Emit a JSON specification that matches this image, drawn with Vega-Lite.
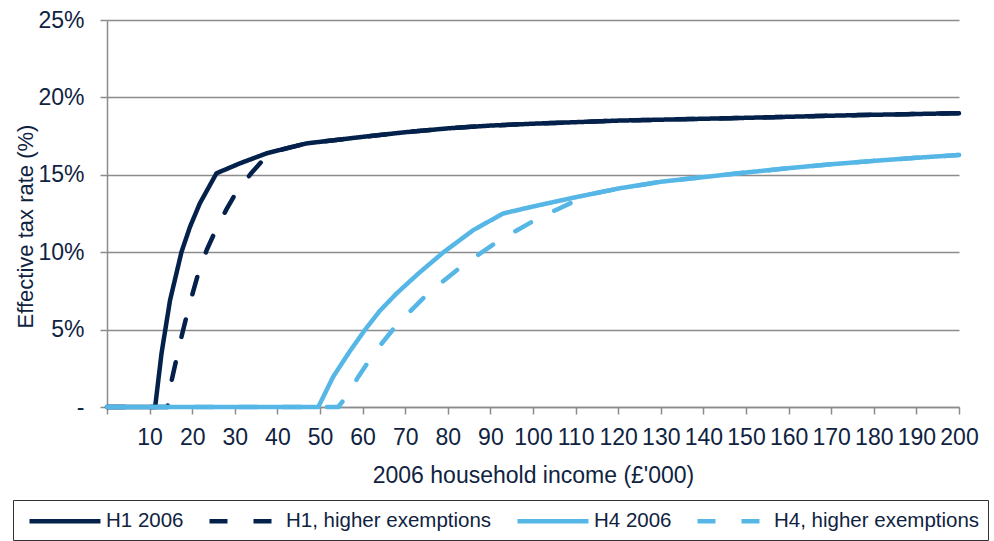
{
  "$schema": "https://vega.github.io/schema/vega-lite/v6.json",
  "autosize": {"type": "none"},
  "width": 852,
  "height": 387,
  "padding": {"left": 107, "top": 20, "right": 35, "bottom": 134},
  "background": "white",
  "config": {
    "font": "Liberation Sans",
    "view": {"stroke": null}
  },
  "data": {
    "values": [
      {"series": "H1 2006", "income": 0, "rate": 0},
      {"series": "H1 2006", "income": 11.3, "rate": 0},
      {"series": "H1 2006", "income": 12.8, "rate": 0.0347},
      {"series": "H1 2006", "income": 14.8, "rate": 0.069},
      {"series": "H1 2006", "income": 17.5, "rate": 0.1003},
      {"series": "H1 2006", "income": 19.5, "rate": 0.1165},
      {"series": "H1 2006", "income": 21.8, "rate": 0.1316},
      {"series": "H1 2006", "income": 25.7, "rate": 0.151},
      {"series": "H1 2006", "income": 31.2, "rate": 0.1574},
      {"series": "H1 2006", "income": 37.5, "rate": 0.1639},
      {"series": "H1 2006", "income": 46.9, "rate": 0.1703},
      {"series": "H1 2006", "income": 60, "rate": 0.1745},
      {"series": "H1 2006", "income": 70, "rate": 0.1775},
      {"series": "H1 2006", "income": 80, "rate": 0.18},
      {"series": "H1 2006", "income": 90, "rate": 0.1818},
      {"series": "H1 2006", "income": 100, "rate": 0.183},
      {"series": "H1 2006", "income": 120, "rate": 0.185},
      {"series": "H1 2006", "income": 150, "rate": 0.1868},
      {"series": "H1 2006", "income": 175, "rate": 0.1885},
      {"series": "H1 2006", "income": 200, "rate": 0.1898},

      {"series": "H1, higher exemptions", "income": 0, "rate": 0},
      {"series": "H1, higher exemptions", "income": 14.2, "rate": 0},
      {"series": "H1, higher exemptions", "income": 15.2, "rate": 0.0174},
      {"series": "H1, higher exemptions", "income": 16.3, "rate": 0.031},
      {"series": "H1, higher exemptions", "income": 17.5, "rate": 0.0455},
      {"series": "H1, higher exemptions", "income": 18.7, "rate": 0.059},
      {"series": "H1, higher exemptions", "income": 19.9, "rate": 0.0715},
      {"series": "H1, higher exemptions", "income": 21.4, "rate": 0.086},
      {"series": "H1, higher exemptions", "income": 23.4, "rate": 0.1014},
      {"series": "H1, higher exemptions", "income": 25.4, "rate": 0.1135},
      {"series": "H1, higher exemptions", "income": 28.1, "rate": 0.128},
      {"series": "H1, higher exemptions", "income": 30.4, "rate": 0.139},
      {"series": "H1, higher exemptions", "income": 34, "rate": 0.1515},
      {"series": "H1, higher exemptions", "income": 37.1, "rate": 0.161},
      {"series": "H1, higher exemptions", "income": 38.5, "rate": 0.1647},
      {"series": "H1, higher exemptions", "income": 46.9, "rate": 0.1703},
      {"series": "H1, higher exemptions", "income": 60, "rate": 0.1745},
      {"series": "H1, higher exemptions", "income": 70, "rate": 0.1775},
      {"series": "H1, higher exemptions", "income": 80, "rate": 0.18},
      {"series": "H1, higher exemptions", "income": 90, "rate": 0.1818},
      {"series": "H1, higher exemptions", "income": 100, "rate": 0.183},
      {"series": "H1, higher exemptions", "income": 120, "rate": 0.185},
      {"series": "H1, higher exemptions", "income": 150, "rate": 0.1868},
      {"series": "H1, higher exemptions", "income": 175, "rate": 0.1885},
      {"series": "H1, higher exemptions", "income": 200, "rate": 0.1898},

      {"series": "H4 2006", "income": 0, "rate": 0},
      {"series": "H4 2006", "income": 49.6, "rate": 0},
      {"series": "H4 2006", "income": 53.1, "rate": 0.0196},
      {"series": "H4 2006", "income": 57, "rate": 0.036},
      {"series": "H4 2006", "income": 60.6, "rate": 0.05},
      {"series": "H4 2006", "income": 64, "rate": 0.062},
      {"series": "H4 2006", "income": 68, "rate": 0.0734},
      {"series": "H4 2006", "income": 73, "rate": 0.086},
      {"series": "H4 2006", "income": 79, "rate": 0.1},
      {"series": "H4 2006", "income": 86, "rate": 0.1143},
      {"series": "H4 2006", "income": 93, "rate": 0.125},
      {"series": "H4 2006", "income": 100, "rate": 0.1295},
      {"series": "H4 2006", "income": 110, "rate": 0.1355},
      {"series": "H4 2006", "income": 120.4, "rate": 0.1413},
      {"series": "H4 2006", "income": 130, "rate": 0.1455},
      {"series": "H4 2006", "income": 140, "rate": 0.1485},
      {"series": "H4 2006", "income": 150, "rate": 0.1515},
      {"series": "H4 2006", "income": 160, "rate": 0.1543},
      {"series": "H4 2006", "income": 170, "rate": 0.1568},
      {"series": "H4 2006", "income": 180, "rate": 0.159},
      {"series": "H4 2006", "income": 190, "rate": 0.161},
      {"series": "H4 2006", "income": 200, "rate": 0.1628},

      {"series": "H4, higher exemptions", "income": 0, "rate": 0},
      {"series": "H4, higher exemptions", "income": 54.3, "rate": 0},
      {"series": "H4, higher exemptions", "income": 56, "rate": 0.006},
      {"series": "H4, higher exemptions", "income": 59, "rate": 0.0196},
      {"series": "H4, higher exemptions", "income": 63, "rate": 0.036},
      {"series": "H4, higher exemptions", "income": 68, "rate": 0.053},
      {"series": "H4, higher exemptions", "income": 75.4, "rate": 0.0735},
      {"series": "H4, higher exemptions", "income": 83.6, "rate": 0.0917},
      {"series": "H4, higher exemptions", "income": 92.3, "rate": 0.108},
      {"series": "H4, higher exemptions", "income": 101.6, "rate": 0.1225},
      {"series": "H4, higher exemptions", "income": 106.3, "rate": 0.1284},
      {"series": "H4, higher exemptions", "income": 113, "rate": 0.1372},
      {"series": "H4, higher exemptions", "income": 120.4, "rate": 0.1413},
      {"series": "H4, higher exemptions", "income": 130, "rate": 0.1455},
      {"series": "H4, higher exemptions", "income": 140, "rate": 0.1485},
      {"series": "H4, higher exemptions", "income": 150, "rate": 0.1515},
      {"series": "H4, higher exemptions", "income": 160, "rate": 0.1543},
      {"series": "H4, higher exemptions", "income": 170, "rate": 0.1568},
      {"series": "H4, higher exemptions", "income": 180, "rate": 0.159},
      {"series": "H4, higher exemptions", "income": 190, "rate": 0.161},
      {"series": "H4, higher exemptions", "income": 200, "rate": 0.1628}
    ]
  },
  "mark": {"type": "line", "strokeWidth": 4.5, "strokeCap": "round", "strokeJoin": "round", "clip": false},
  "encoding": {
    "x": {
      "field": "income",
      "type": "quantitative",
      "scale": {"domain": [0, 200], "nice": false, "zero": true},
      "axis": {
        "title": "2006 household income (£'000)",
        "values": [0, 10, 20, 30, 40, 50, 60, 70, 80, 90, 100, 110, 120, 130, 140, 150, 160, 170, 180, 190, 200],
        "labelExpr": "datum.value == 0 ? '' : datum.label",
        "labelFontSize": 23,
        "labelColor": "#0f2341",
        "labelPadding": 12,
        "labelOverlap": false,
        "labelFlush": false,
        "labelBound": false,
        "tickSize": 7,
        "tickColor": "#8c8c8c",
        "tickWidth": 1.5,
        "domainColor": "#8c8c8c",
        "domainWidth": 1.5,
        "grid": false,
        "titleFontSize": 23,
        "titleFontWeight": "normal",
        "titleColor": "#0f2341",
        "titleBaseline": "alphabetic",
        "titleY": 75
      }
    },
    "y": {
      "field": "rate",
      "type": "quantitative",
      "scale": {"domain": [0, 0.25], "nice": false},
      "axis": {
        "title": "Effective tax rate (%)",
        "values": [0, 0.05, 0.1, 0.15, 0.2, 0.25],
        "labelExpr": "datum.value == 0 ? '-' : format(datum.value, '.0%')",
        "labelFontSize": 23,
        "labelColor": "#0f2341",
        "labelPadding": 16,
        "tickSize": 7,
        "tickColor": "#8c8c8c",
        "tickWidth": 1.5,
        "domainColor": "#8c8c8c",
        "domainWidth": 1.5,
        "grid": true,
        "gridColor": "#8c8c8c",
        "gridWidth": 1.5,
        "titleFontSize": 22,
        "titleFontWeight": "normal",
        "titleColor": "#0f2341",
        "titleAngle": -90,
        "titleAlign": "center",
        "titleBaseline": "alphabetic",
        "titleX": -75,
        "titleY": 206
      }
    },
    "color": {
      "field": "series",
      "type": "nominal",
      "scale": {
        "domain": ["H1 2006", "H1, higher exemptions", "H4 2006", "H4, higher exemptions"],
        "range": ["#03214a", "#03214a", "#56b7e7", "#56b7e7"]
      },
      "legend": {
        "title": " ",
        "titleOrient": "left",
        "titleFontSize": 10,
        "titlePadding": 6,
        "orient": "none",
        "legendX": -94,
        "legendY": 480,
        "direction": "horizontal",
        "columns": 4,
        "symbolType": "M-1,0H5.76",
        "symbolSize": 441,
        "symbolStrokeWidth": 4.5,
        "labelFontSize": 20.5,
        "labelColor": "#0f2341",
        "labelOffset": 53,
        "columnPadding": 16,
        "padding": 8,
        "strokeColor": "#333333",
        "labelLimit": 400
      }
    },
    "strokeDash": {
      "field": "series",
      "type": "nominal",
      "scale": {
        "domain": ["H1 2006", "H1, higher exemptions", "H4 2006", "H4, higher exemptions"],
        "range": [[1, 0], [18, 26], [1, 0], [18, 26]]
      },
      "legend": null
    }
  }
}
